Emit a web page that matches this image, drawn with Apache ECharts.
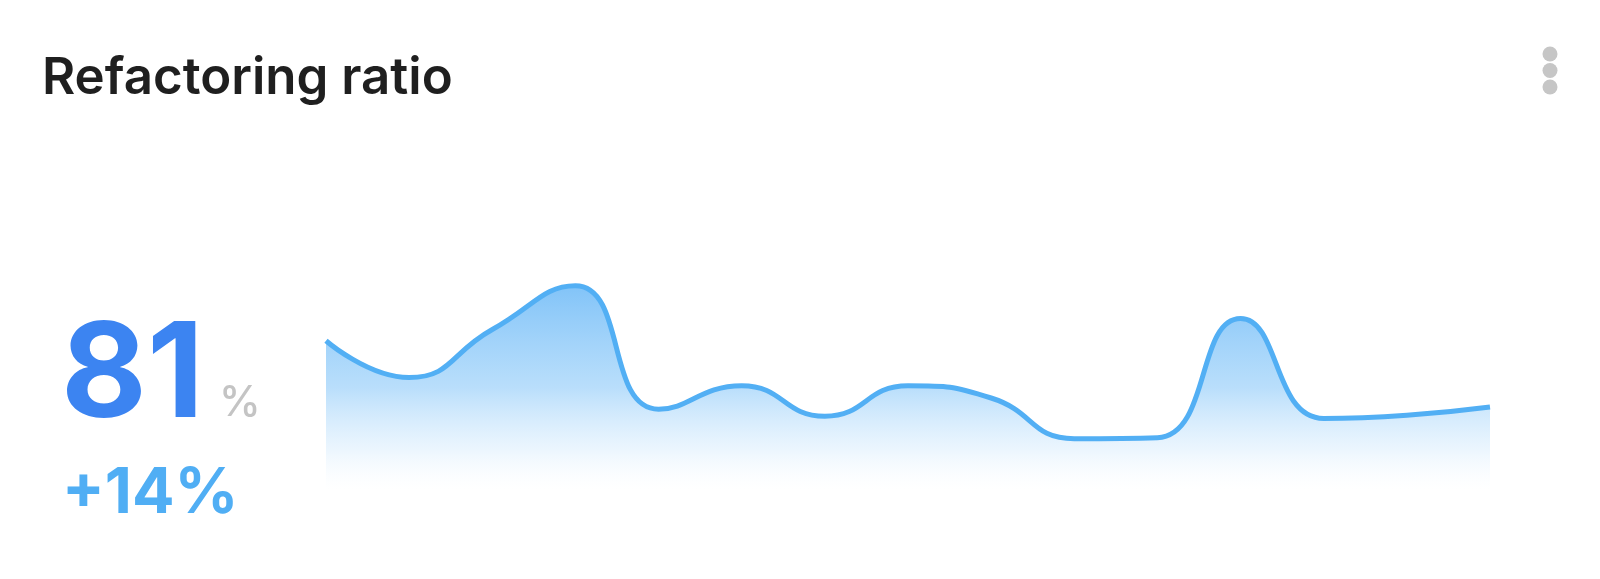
<!DOCTYPE html>
<html>
<head>
<meta charset="utf-8">
<script src="https://cdn.jsdelivr.net/npm/echarts@6/dist/echarts.min.js"></script>
<style>
  html, body { margin: 0; padding: 0; background: #ffffff; }
  #chart { width: 1600px; height: 579px; }
</style>
</head>
<body>
<div id="chart"></div>
<script>
const titleText = 'Refactoring ratio';
const mainValue = '81';
const mainUnit = '%';
const changeText = '+14%';
const categories = ['1','2','3','4','5','6','7','8','9','10','11','12','13','14','15'];
const ratioValues = [59.7, 45, 64.2, 81.7, 32.3, 41.7, 29.5, 41.7, 36.8, 20.5, 20.9, 68.6, 28.6, 29.9, 33.2];

const chart = echarts.init(document.getElementById('chart'), null, { renderer: 'canvas' });
chart.setOption({
  backgroundColor: '#ffffff',
  animation: false,
  grid: { left: 326, right: 110, top: 240, bottom: 89 },
  xAxis: {
    type: 'category',
    data: categories,
    boundaryGap: false,
    show: false
  },
  yAxis: {
    type: 'value',
    min: 0,
    max: 100,
    show: false
  },
  series: [{
    type: 'line',
    data: ratioValues,
    smooth: 0.5,
    symbol: 'none',
    lineStyle: { color: '#52AFF4', width: 5 },
    areaStyle: {
      color: {
        type: 'linear', x: 0, y: 0, x2: 0, y2: 1,
        colorStops: [
          { offset: 0, color: 'rgba(76,170,245,1)' },
          { offset: 0.5, color: 'rgba(108,186,247,0.68)' },
          { offset: 0.8, color: 'rgba(160,210,250,0.3)' },
          { offset: 1, color: 'rgba(220,238,253,0)' }
        ]
      }
    }
  }],
  graphic: [
    { type: 'text', left: 42, top: 53, style: { text: titleText, font: '600 51px Inter', fill: '#1f1f1f' } },
    { type: 'circle', shape: { cx: 1550, cy: 54, r: 7.5 }, style: { fill: '#c6c6c6' } },
    { type: 'circle', shape: { cx: 1550, cy: 70.5, r: 7.5 }, style: { fill: '#c6c6c6' } },
    { type: 'circle', shape: { cx: 1550, cy: 87, r: 7.5 }, style: { fill: '#c6c6c6' } },
    { type: 'text', left: 61, top: 311, style: { text: mainValue, font: '700 132px Inter', fill: '#3C84F1' } },
    { type: 'text', left: 219, top: 382, style: { text: mainUnit, font: '500 42px Inter', fill: '#c4c4c4' } },
    { type: 'text', left: 62, top: 463, style: { text: changeText, font: '700 63px Inter', fill: '#50AEF4' } }
  ]
});
</script>
</body>
</html>
